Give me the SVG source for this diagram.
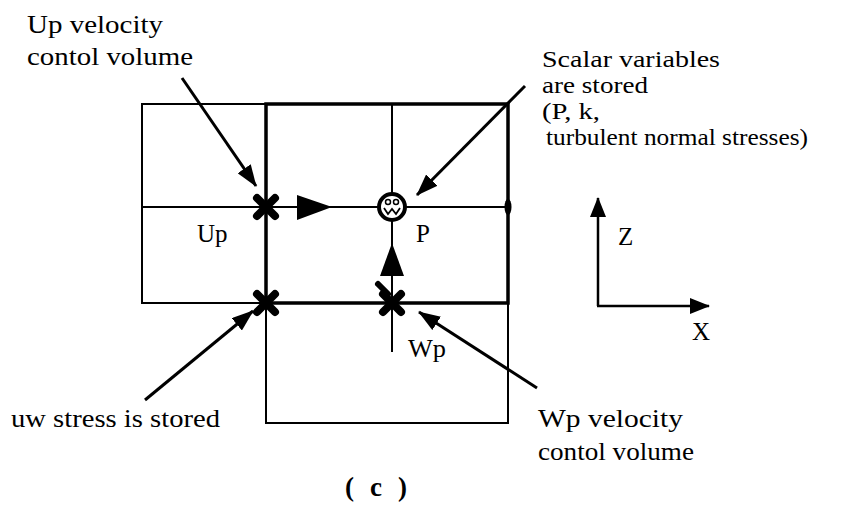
<svg xmlns="http://www.w3.org/2000/svg" width="850" height="513" viewBox="0 0 850 513">
<style>
.t{font-family:"Liberation Serif","Times New Roman",serif;font-size:25px;fill:#000}
.s{font-size:23px}
.b{font-weight:bold;font-size:27px}
.thin{fill:none;stroke:#000;stroke-width:2}
.thick{fill:none;stroke:#000;stroke-width:3.5}
.lead{fill:none;stroke:#000;stroke-width:3;marker-end:url(#ah)}
.ax{fill:none;stroke:#000;stroke-width:2.5;marker-end:url(#ah2)}
</style>
<defs>
<marker id="ah" viewBox="0 0 22 16" refX="21" refY="8" markerWidth="22" markerHeight="16" orient="auto" markerUnits="userSpaceOnUse"><path d="M0,0 L22,8 L0,16 z" fill="#000"/></marker>
<marker id="ah2" viewBox="0 0 20 16" refX="19" refY="8" markerWidth="20" markerHeight="16" orient="auto" markerUnits="userSpaceOnUse"><path d="M0,0 L20,8 L0,16 z" fill="#000"/></marker>
<g id="cross"><path d="M-9,-9 L9,9 M9,-9 L-9,9" stroke="#000" stroke-width="8" stroke-linecap="round"/><rect x="-6" y="-6" width="12" height="12" fill="#000"/></g>
</defs>
<rect width="850" height="513" fill="#fff"/>

<g id="grid">
<path class="thin" d="M266,104 H142 V303 H266 M142,207 H508 M392,104 V352 M266,303 V423 H508 V303"/>
<rect class="thick" x="266" y="104" width="242" height="199"/>
<ellipse cx="508" cy="207" rx="3.5" ry="8" fill="#000"/>
</g>

<g id="node-up">
<use href="#cross" x="266" y="207"/>
<path d="M297,195 L332,207 L297,220 z" fill="#000"/>
<text class="t" x="197" y="242">Up</text>
</g>

<g id="node-p">
<circle cx="392" cy="207" r="13" fill="#fff" stroke="#000" stroke-width="4"/>
<circle cx="388" cy="202" r="2.5" fill="none" stroke="#000" stroke-width="1.5"/>
<circle cx="396" cy="202" r="2.5" fill="none" stroke="#000" stroke-width="1.5"/>
<path d="M384,208 L388,214 L392,209 L396,214 L400,208" fill="none" stroke="#000" stroke-width="1.8"/>
<text class="t" x="416" y="242">P</text>
</g>

<g id="node-wp">
<use href="#cross" x="392" y="303"/>
<path d="M392,243 L380,276 L404,276 z" fill="#000"/>
<path d="M378,284 L388,294" stroke="#000" stroke-width="6" stroke-linecap="round"/>
<text class="t" x="408" y="357" textLength="38" lengthAdjust="spacingAndGlyphs">Wp</text>
</g>

<g id="node-uw">
<use href="#cross" x="266" y="303"/>
</g>

<g id="connectors">
<line class="lead" x1="182" y1="78" x2="256" y2="186"/>
<line class="lead" x1="525" y1="86" x2="417" y2="195"/>
<line class="lead" x1="145" y1="400" x2="253" y2="311"/>
<line class="lead" x1="537" y1="388" x2="419" y2="312"/>
</g>

<g id="label-up">
<text class="t" x="27" y="33" textLength="136" lengthAdjust="spacingAndGlyphs">Up velocity</text>
<text class="t" x="27" y="65" textLength="166" lengthAdjust="spacingAndGlyphs">contol volume</text>
</g>

<g id="label-scalar">
<text class="t s" x="542" y="67" textLength="178" lengthAdjust="spacingAndGlyphs">Scalar variables</text>
<text class="t s" x="542" y="93" textLength="106" lengthAdjust="spacingAndGlyphs">are stored</text>
<text class="t s" x="542" y="119" textLength="58" lengthAdjust="spacingAndGlyphs">(P, k,</text>
<text class="t s" x="546" y="145" textLength="262" lengthAdjust="spacingAndGlyphs">turbulent normal stresses)</text>
</g>

<g id="label-uw">
<text class="t" x="11" y="427" textLength="209" lengthAdjust="spacingAndGlyphs">uw stress is stored</text>
</g>

<g id="label-wp">
<text class="t" x="538" y="427" textLength="145" lengthAdjust="spacingAndGlyphs">Wp velocity</text>
<text class="t" x="538" y="460" textLength="156" lengthAdjust="spacingAndGlyphs">contol volume</text>
</g>

<g id="axes">
<path class="ax" d="M598,306 V198"/>
<path class="ax" d="M597,306 H709"/>
<text class="t" x="618" y="245">Z</text>
<text class="t" x="692" y="340">X</text>
</g>

<g id="caption">
<text class="t b" x="345" y="496" textLength="62" lengthAdjust="spacing">( c )</text>
</g>
</svg>
